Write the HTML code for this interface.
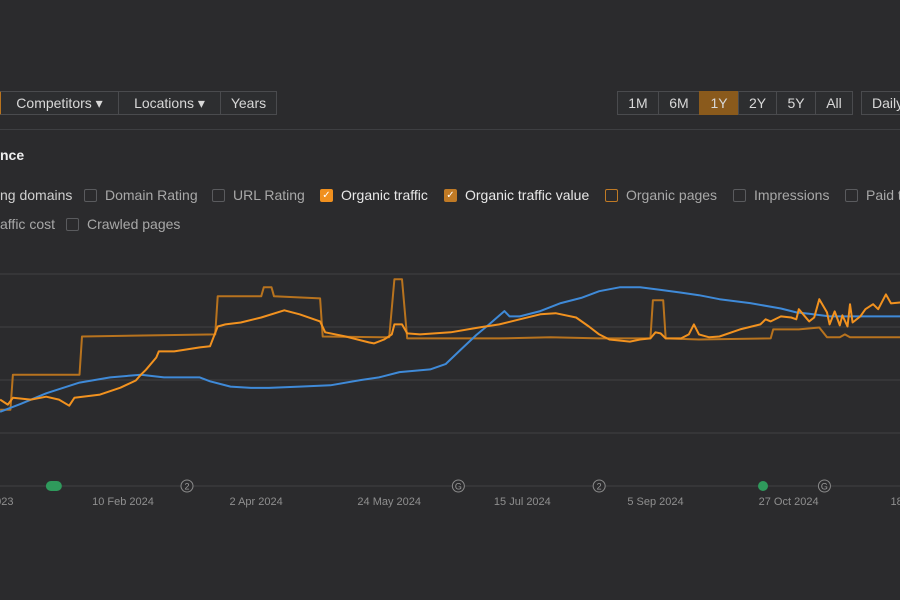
<!DOCTYPE html>
<html><head><meta charset="utf-8">
<style>
body{margin:0;width:900px;height:600px;background:#2b2b2d;overflow:hidden;font-family:"Liberation Sans",sans-serif;color:#d4d4d4;position:relative}
.btn{position:absolute;top:91px;height:24px;border:1px solid #4a4b4e;box-sizing:border-box;font-size:14px;line-height:22px;text-align:center;color:#d8d8d8;background:#2d2e30}
.cb{position:absolute;font-size:14px;color:#a8a8a8;white-space:nowrap;display:flex;align-items:center;height:18px}
.box{display:inline-block;width:13px;height:13px;border:1px solid #5a5b5e;border-radius:2px;margin-right:8px;box-sizing:border-box;flex:none}
.on{background:#f0901e;border-color:#f0901e;color:#fff;font-size:10px;line-height:11px;text-align:center}
.on2{background:#c07a25;border-color:#c07a25;color:#fff;font-size:10px;line-height:11px;text-align:center}
.xl{font-size:11px;fill:#8f8f8f}
</style></head><body>
<div class="btn" style="left:-1px;width:120px;border-left:2px solid #b8731e">Competitors ▾</div>
<div class="btn" style="left:118px;width:103px">Locations ▾</div>
<div class="btn" style="left:220px;width:57px">Years</div>
<div class="btn" style="left:617px;width:42px">1M</div>
<div class="btn" style="left:658px;width:42px">6M</div>
<div class="btn" style="left:699px;width:40px;background:#8a5a1c;border-color:#8a5a1c">1Y</div>
<div class="btn" style="left:738px;width:39px">2Y</div>
<div class="btn" style="left:776px;width:40px">5Y</div>
<div class="btn" style="left:815px;width:38px">All</div>
<div class="btn" style="left:861px;width:60px;text-align:left;padding-left:10px">Daily</div>
<div style="position:absolute;left:0;top:129px;width:900px;height:1px;background:#3e3f42"></div>
<div style="position:absolute;left:0;top:147px;font-size:14px;font-weight:bold;color:#eee">nce</div>
<div class="cb" style="left:0;top:186px;color:#d0d0d0">ng domains</div>
<div class="cb" style="left:84px;top:186px"><span class="box"></span>Domain Rating</div>
<div class="cb" style="left:212px;top:186px"><span class="box"></span>URL Rating</div>
<div class="cb" style="left:320px;top:186px;color:#e8e8e8"><span class="box on">✓</span>Organic traffic</div>
<div class="cb" style="left:444px;top:186px;color:#e8e8e8"><span class="box on2">✓</span>Organic traffic value</div>
<div class="cb" style="left:605px;top:186px"><span class="box" style="border-color:#c07a25"></span>Organic pages</div>
<div class="cb" style="left:733px;top:186px"><span class="box"></span>Impressions</div>
<div class="cb" style="left:845px;top:186px"><span class="box"></span>Paid traffic</div>
<div class="cb" style="left:0;top:215px">affic cost</div>
<div class="cb" style="left:66px;top:215px"><span class="box"></span>Crawled pages</div>
<svg id="chart" width="900" height="600" style="position:absolute;left:0;top:0"></svg>
<script>
const gridVals=[0,20,40,60,80];
const tickDays=[-52,0,52,104,156,208,260,312];
const tickLabels=["Dec 2023","10 Feb 2024","2 Apr 2024","24 May 2024","15 Jul 2024","5 Sep 2024","27 Oct 2024","18 Dec 2024"];
const blueDays=[-48,-40,-30,-17,-5,7,16,30,34,42,50,57,69,81,93,100,108,120,126,132,138,143,149,151,155,163,171,179,186,194,202,210,218,225,233,245,257,263,268,276,288,304];
const blueVals=[28,31,35,39,41,42,41,41,39.5,37.5,37,37,37.5,38,40,41,43,44,46,51.5,57,61,66,64,64,66,69,71,73.5,75,75,74,73,72,70.5,69,67,65.5,65,64,64,64];
const trafDays=[-48,-45,-43,-36,-30,-25,-21,-19,-9,-1,5,7,9,13,14,20,30,34,37,40,46,54,63,69,77,79,87,96,98,102,105,106,109,111,116,128,139,147,155,163,169,177,182,186,190,198,202,206,208,210,212,218,221,223,225,229,233,241,249,251,253,257,261,263,264,268,270,272,275,276,278,280,281,283,284,285,288,290,293,295,298,300,304];
const trafVals=[32.6,30.7,33.3,32.6,33.7,32.6,30.3,33.3,34.5,37.1,39.8,42,43.9,48.5,50.8,50.8,52.3,52.7,60.2,61,61.7,63.6,66.3,64.8,62.1,58,56.4,54.2,53.8,55.3,57.2,61,61,57.6,57.2,58,59.8,61,62.9,64.8,65.2,63.6,60.2,57.2,55.3,54.5,55.3,55.7,58,57.6,55.7,55.7,57.2,61,57.2,56.1,56.4,59.1,61,62.9,62.1,64,63.6,62.9,66.7,62.1,63.6,70.5,65.5,61,65.9,60.6,64.4,60.2,68.6,61.7,64,66.7,68.6,66.7,72.3,68.9,69.3];
const valueDays=[-48,-44,-43,-17,-16,36,37,54,55,58,59,77,78,104,106,109,111,147,167,186,206,207,211,212,225,253,254,264,272,275,280,282,284,304];
const valueVals=[28.8,28.8,42,42,56.4,57.2,71.6,71.6,75,75,71.6,70.8,56.4,56.1,78,78,55.7,55.7,56.1,55.7,55.7,70.1,70.1,55.7,55.3,55.7,59.1,59.1,59.8,56.1,56.1,57.2,56.1,56.1];
const markerDays=[-27,25,131,186,250,274];
const markerTypes=["green-oval","2","G","2","green","G"];
const svg=document.getElementById('chart');const NS='http://www.w3.org/2000/svg';
const xs=d=>123+d*2.56;const ys=v=>486-v*2.65;
function mk(t,a){const e=document.createElementNS(NS,t);for(const k in a)e.setAttribute(k,a[k]);svg.appendChild(e);return e;}
gridVals.forEach((v,i)=>{const l=mk('line',{x1:0,x2:900,y1:ys(v),y2:ys(v),stroke:'#404144','stroke-width':1});

});
tickDays.forEach((d,i)=>{const t=mk('text',{x:xs(d),y:505,'text-anchor':'middle',class:'xl'});t.textContent=tickLabels[i];

});
function line(days,vals,color,w,name){const p=days.map((d,i)=>(i?'L':'M')+xs(d).toFixed(1)+','+ys(vals[i]).toFixed(1)).join('');
const e=mk('path',{d:p,fill:'none',stroke:color,'stroke-width':w,'stroke-linejoin':'round'});

}
line(valueDays,valueVals,'#b8731e',2,'organic-traffic-value-line');
line(blueDays,blueVals,'#3f8ad8',2,'blue-series-line');
line(trafDays,trafVals,'#f2921f',2,'organic-traffic-line');
markerDays.forEach((d,i)=>{const x=xs(d),ty=markerTypes[i];let e;
if(ty==='green-oval'){e=mk('rect',{x:x-8,y:481,width:16,height:10,rx:5,fill:'#2f9a5c'});}
else if(ty==='green'){e=mk('circle',{cx:x,cy:486,r:5,fill:'#2f9a5c'});}
else{e=mk('circle',{cx:x,cy:486,r:6,fill:'#2b2b2d',stroke:'#8a8a8a','stroke-width':1});const t=mk('text',{x:x,y:489.5,'text-anchor':'middle','font-size':'9',fill:'#9a9a9a'});t.textContent=ty;

}

});
</script>
</body></html>
